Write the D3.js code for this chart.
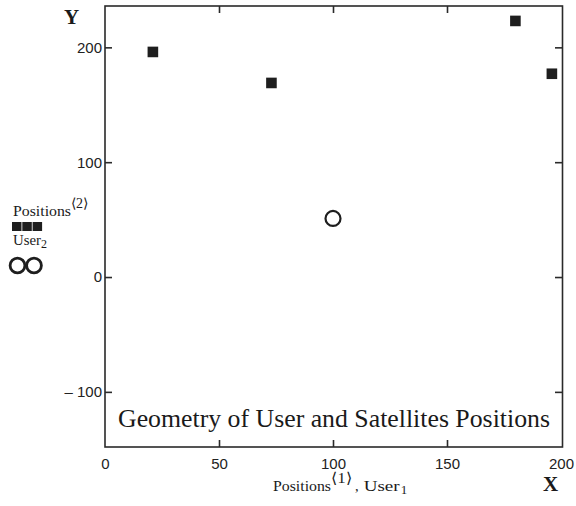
<!DOCTYPE html>
<html><head><meta charset="utf-8">
<script src="https://cdn.jsdelivr.net/npm/d3@7"></script>
<style>
html,body{margin:0;padding:0;background:#fff;}
svg{display:block;}
</style></head>
<body>
<svg id="c" width="576" height="506"></svg>
<script>
// Data
const satX = [21, 73, 180, 196];
const satY = [196, 169, 223, 177];
const userX = [100];
const userY = [51];
const xTicks = [0, 50, 100, 150, 200];
const yTicks = [-100, 0, 100, 200];
const xTickLabels = ["0", "50", "100", "150", "200"];
const yTickLabels = ["\u2013 100", "0", "100", "200"];
const titleText = "Geometry of User and Satellites Positions";

(function () {
const svg = d3.select("#c");
const L = 105, R = 561, T = 6, B = 447;
const x = d3.scaleLinear().domain([0, 200]).range([L, R]);
const y = d3.scaleLinear().domain([-148, 236]).range([B, T]);
const ink = "#2a2a2a";
const tickFont = "'Liberation Sans Narrow','Arial Narrow','Liberation Sans',sans-serif";
const serif = "'Liberation Serif','Times New Roman',serif";

// frame
svg.append("rect").attr("x", L).attr("y", T).attr("width", R - L + 1.5).attr("height", B - T)
  .attr("fill", "none").attr("stroke", ink).attr("stroke-width", 1.6);

// axes (inward ticks)
const tl = 7;
const gBottom = svg.append("g").attr("transform", `translate(0,${B})`)
  .call(d3.axisBottom(x).tickValues(xTicks).tickSizeInner(-tl).tickSizeOuter(0).tickPadding(11)
    .tickFormat((d, i) => xTickLabels[i]));
const gTop = svg.append("g").attr("transform", `translate(0,${T})`)
  .call(d3.axisTop(x).tickValues(xTicks.slice(1, 4)).tickSizeInner(-tl).tickSizeOuter(0).tickFormat(""));
const gLeft = svg.append("g").attr("transform", `translate(${L},0)`)
  .call(d3.axisLeft(y).tickValues(yTicks).tickSizeInner(-tl).tickSizeOuter(0).tickPadding(3)
    .tickFormat((d, i) => yTickLabels[i]));
const gRight = svg.append("g").attr("transform", `translate(${R + 1},0)`)
  .call(d3.axisRight(y).tickValues(yTicks).tickSizeInner(-tl).tickSizeOuter(0).tickFormat(""));
[gBottom, gTop, gLeft, gRight].forEach(g => {
  g.select(".domain").remove();
  g.selectAll(".tick line").attr("stroke", ink).attr("stroke-width", 1.6);
  g.selectAll(".tick text").attr("fill", "#222").style("font-family", tickFont).style("font-size", "15px");
});
gBottom.selectAll(".tick line").filter(d => d === 0 || d === 200).remove();

// satellites
svg.append("g").selectAll("rect").data(satX).join("rect")
  .attr("x", (d, i) => x(d) - 5.3).attr("y", (d, i) => y(satY[i]) - 5.3)
  .attr("width", 10.6).attr("height", 10.6).attr("fill", "#1e1e1e");

// user
svg.append("g").selectAll("circle").data(userX).join("circle")
  .attr("cx", d => x(d)).attr("cy", (d, i) => y(userY[i])).attr("r", 7.5)
  .attr("fill", "none").attr("stroke", "#1e1e1e").attr("stroke-width", 2.2);

// title
svg.append("text").attr("x", 118).attr("y", 426.5)
  .attr("textLength", 432).attr("lengthAdjust", "spacingAndGlyphs")
  .style("font-family", serif).style("font-size", "24.5px").attr("fill", "#1a1a1a").text(titleText);

// axis letters
svg.append("text").attr("x", 64).attr("y", 24).style("font-family", serif).style("font-size", "21px")
  .style("font-weight", "bold").attr("fill", "#1a1a1a").text("Y");
svg.append("text").attr("x", 543).attr("y", 491).style("font-family", serif).style("font-size", "21px")
  .style("font-weight", "bold").attr("fill", "#1a1a1a").text("X");

// x label
const xl = svg.append("text").attr("x", 273).attr("y", 491).style("font-family", serif)
  .style("font-size", "14.5px").attr("fill", "#1a1a1a");
xl.append("tspan").attr("textLength", 58).attr("lengthAdjust", "spacingAndGlyphs").text("Positions");
xl.append("tspan").attr("dy", -8).style("font-size", "15px").attr("textLength", 21)
  .attr("lengthAdjust", "spacingAndGlyphs").text("\u27E81\u27E9");
xl.append("tspan").attr("dy", 8).attr("dx", 3).text(",");
xl.append("tspan").attr("dx", 5).attr("textLength", 36).attr("lengthAdjust", "spacingAndGlyphs").text("User");
xl.append("tspan").attr("dy", 3).attr("dx", 1).style("font-size", "13px").text("1");

// legend
const lg = svg.append("g");
const t1 = lg.append("text").attr("x", 13).attr("y", 215.5).style("font-family", serif)
  .style("font-size", "14.5px").attr("fill", "#1a1a1a");
t1.append("tspan").attr("textLength", 58).attr("lengthAdjust", "spacingAndGlyphs").text("Positions");
t1.append("tspan").attr("dy", -8).style("font-size", "14px").text("\u27E82\u27E9");
lg.selectAll("rect").data([0, 1, 2]).join("rect")
  .attr("x", d => 12 + d * 10.3).attr("y", 222).attr("width", 9.5).attr("height", 9)
  .attr("fill", "#1e1e1e");
const t2 = lg.append("text").attr("x", 13).attr("y", 245).style("font-family", serif)
  .style("font-size", "14.5px").attr("fill", "#1a1a1a");
t2.append("tspan").attr("textLength", 28).attr("lengthAdjust", "spacingAndGlyphs").text("User");
t2.append("tspan").attr("dy", 3).style("font-size", "12px").text("2");
lg.selectAll("circle").data([0, 1]).join("circle")
  .attr("cx", d => 17.5 + d * 16.5).attr("cy", 265.5).attr("r", 7.4)
  .attr("fill", "none").attr("stroke", "#1e1e1e").attr("stroke-width", 2.8);
})();
</script>
</body></html>
